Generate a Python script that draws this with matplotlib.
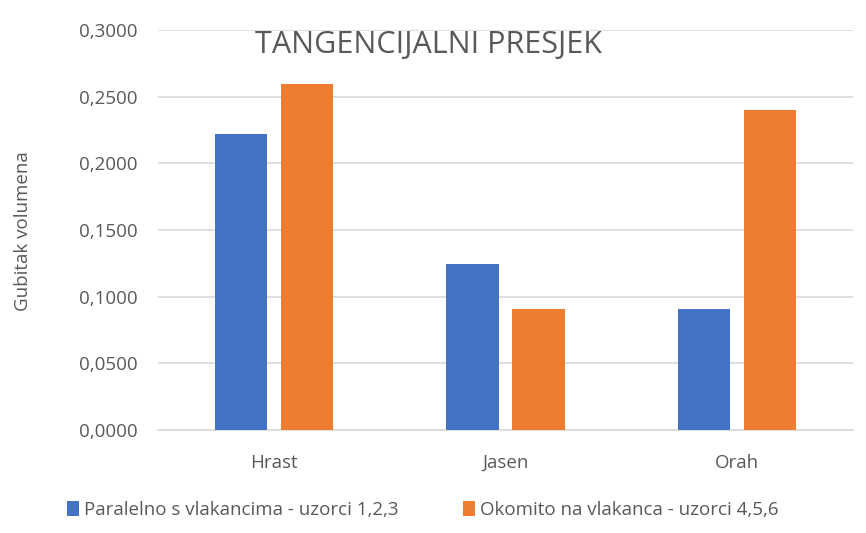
import matplotlib
matplotlib.use("Agg")
import matplotlib.pyplot as plt
import numpy as np

plt.rcParams['font.family'] = ['Open Sans', 'DejaVu Sans']

categories = ["Hrast", "Jasen", "Orah"]
paralelno = [0.222, 0.1245, 0.091]
okomito = [0.2595, 0.091, 0.240]
series_names = ["Paralelno s vlakancima - uzorci 1,2,3",
                "Okomito na vlakanca - uzorci 4,5,6"]
yticks = [0.0, 0.05, 0.10, 0.15, 0.20, 0.25, 0.30]

blue = "#4472C4"
orange = "#ED7D31"
text_grey = "#595959"

fig = plt.figure(figsize=(8.66, 5.33), dpi=100)
ax = fig.add_axes([0.1824, 0.1932, 0.8026, 0.7505])

x = np.arange(len(categories))
w = 0.225
off = 0.1425
b1 = ax.bar(x - off, paralelno, w, color=blue, label=series_names[0], zorder=3)
b2 = ax.bar(x + off, okomito, w, color=orange, label=series_names[1], zorder=3)

ax.set_xlim(-0.5, 2.5)
ax.set_ylim(0, 0.30)
ax.set_yticks(yticks)
ax.set_yticklabels([f"{v:.4f}".replace(".", ",") for v in yticks])
ax.set_xticks(x)
ax.set_xticklabels(categories)
ax.tick_params(axis='both', length=0, colors=text_grey, labelsize=13.5)
ax.tick_params(axis='y', pad=15)
ax.tick_params(axis='x', pad=17)

ax.grid(axis='y', color="#D9D9D9", linewidth=1.2, zorder=0)
for s in ["top", "right", "left"]:
    ax.spines[s].set_visible(False)
ax.spines["bottom"].set_color("#D9D9D9")
ax.spines["bottom"].set_linewidth(1.2)

fig.text(0.495, 0.916, "TANGENCIJALNI PRESJEK", ha="center", va="center",
         fontsize=22, color=text_grey)
fig.text(0.026, 0.566, "Gubitak volumena", rotation=90, ha="center", va="center",
         fontsize=13.5, color=text_grey)

leg = fig.legend(handles=[b1, b2], loc="center left", bbox_to_anchor=(0.066, 0.043),
                 ncol=2, frameon=False, fontsize=13.5, borderpad=0,
                 handlelength=0.65, handleheight=0.85,
                 handletextpad=0.3, columnspacing=3.4)
for t in leg.get_texts():
    t.set_color(text_grey)

fig.savefig("out.png", dpi=100)
